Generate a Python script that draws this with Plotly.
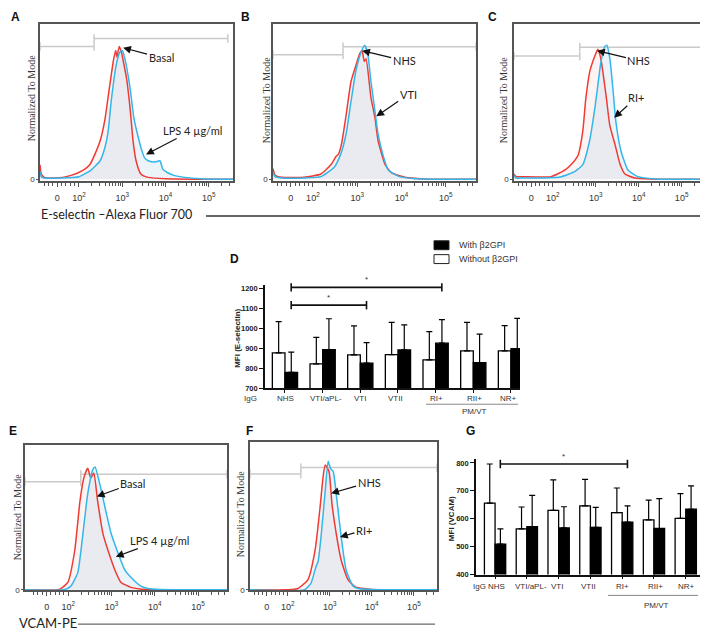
import plotly.graph_objects as go

W, H = 708, 634

# ---------------------------------------------------------------------------
# Flow histograms: channel position on the biex scale (10^n -> n, "0" -> 1.5)
# ---------------------------------------------------------------------------
A_RED_U = [1.1, 1.13, 1.2, 1.5, 1.82, 2.1, 2.25, 2.37, 2.49, 2.6, 2.7, 2.8, 2.85, 2.88,
           2.93, 2.98, 3.03, 3.1, 3.18, 3.25, 3.32, 3.43, 3.6, 4.0, 5.6]
A_RED_Y = [11, 4, 1.5, 1, 3, 7, 11, 19, 29, 45, 68, 90, 97, 92,
           100, 96, 88, 76, 54, 29, 14, 4, 1.5, 0.5, 0]
A_BLUE_U = [1.1, 1.13, 1.2, 1.6, 2.0, 2.28, 2.49, 2.6, 2.67, 2.75, 2.86, 2.95, 3.0, 3.06,
            3.18, 3.27, 3.36, 3.45, 3.52, 3.6, 3.75, 3.87, 3.94, 4.05, 4.2, 4.45, 4.8, 5.6]
A_BLUE_Y = [6, 2, 1, 1, 2, 7, 14, 24, 35, 60, 86, 96, 97, 91,
            69, 46, 33, 22, 16, 14, 13, 14, 7.5, 5, 3, 1.5, 0.5, 0]

B_RED_U = [1.1, 1.15, 1.3, 1.8, 2.18, 2.41, 2.52, 2.58, 2.65, 2.75, 2.86, 2.97, 3.06, 3.11,
           3.16, 3.2, 3.31, 3.4, 3.47, 3.63, 3.77, 4.08, 4.5, 5.7]
B_RED_Y = [8, 3, 1.5, 1.5, 4, 11, 17, 19, 27, 48, 73, 85, 94, 96,
           88, 90, 61, 46, 29, 11, 5, 1.5, 0.3, 0]
B_BLUE_U = [1.1, 1.15, 1.3, 1.8, 2.18, 2.48, 2.63, 2.75, 2.86, 2.97, 3.09, 3.17, 3.24, 3.31,
            3.4, 3.47, 3.6, 3.7, 3.95, 4.3, 5.7]
B_BLUE_Y = [5, 2, 1, 1, 2, 9, 19, 34, 58, 81, 95, 100, 93, 73,
            51, 34, 16, 7, 2, 0.5, 0]

C_RED_U = [1.1, 1.15, 1.3, 1.96, 2.29, 2.43, 2.59, 2.7, 2.77, 2.86, 2.98, 3.05, 3.12, 3.24,
           3.33, 3.45, 3.57, 3.68, 3.91, 4.3, 5.6]
C_RED_Y = [4, 2, 2, 2, 7, 11, 18, 36, 60, 80, 92, 97, 90, 63,
           40, 26, 11, 4, 1, 0.3, 0]
C_BLUE_U = [1.1, 1.15, 1.3, 1.8, 2.2, 2.52, 2.7, 2.86, 2.98, 3.05, 3.12, 3.21, 3.26, 3.33,
            3.4, 3.47, 3.59, 3.75, 3.98, 4.4, 5.6]
C_BLUE_Y = [3, 1, 1, 1, 2, 6, 11, 29, 53, 70, 87, 99, 100, 90,
            68, 43, 21, 7, 2, 0.3, 0]

E_RED_U = [1.0, 1.76, 1.83, 1.99, 2.15, 2.27, 2.36, 2.45, 2.52, 2.59, 2.68, 2.8, 2.92, 3.08,
           3.22, 3.45, 3.7, 5.7]
E_RED_Y = [0, 0, 1, 6, 32, 72, 91, 99, 91, 95, 72, 46, 32, 16,
           6, 2, 0.5, 0]
E_BLUE_U = [1.0, 1.9, 2.06, 2.22, 2.34, 2.45, 2.57, 2.62, 2.73, 2.85, 2.99, 3.15, 3.31, 3.54,
            3.68, 3.84, 4.1, 5.7]
E_BLUE_Y = [0, 0, 3, 14, 46, 78, 98, 100, 86, 67, 46, 30, 16, 7,
            3, 1, 0.3, 0]

F_RED_U = [1.1, 2.0, 2.24, 2.48, 2.65, 2.77, 2.84, 2.89, 2.98, 3.05, 3.15, 3.27, 3.43, 3.62,
           4.0, 5.6]
F_RED_Y = [0, 0, 1, 8, 31, 65, 88, 97, 92, 67, 44, 23, 8, 2,
           0.3, 0]
F_BLUE_U = [1.1, 2.4, 2.55, 2.67, 2.72, 2.79, 2.89, 2.96, 3.02, 3.08, 3.15, 3.27, 3.39, 3.55,
            3.67, 4.0, 5.6]
F_BLUE_Y = [0, 0, 5, 18, 22, 41, 77, 100, 94, 92, 75, 41, 15, 3,
            1, 0.2, 0]

# gates: (left end, split, right end, left level, right level)
A_GATE = (1.1, 2.35, 5.44, 100, 106)
B_GATE = (1.1, 2.68, 5.68, 93, 99)
C_GATE = (1.1, 2.63, 5.59, 92, 98.5)
E_GATE = (1.0, 2.29, 5.67, 88, 94)
F_GATE = (1.1, 2.31, 5.55, 90, 95)

HIST_TICKS = [1.5, 2, 3, 4, 5]
HIST_TICKTEXT = ["0", "10<sup>2</sup>", "10<sup>3</sup>", "10<sup>4</sup>", "10<sup>5</sup>"]

# ---------------------------------------------------------------------------
# Bar charts: mean MFI and SD for each serum group
# ---------------------------------------------------------------------------
CATEGORIES = ["IgG", "NHS", "VTI/aPL-", "VTI", "VTII", "RI+", "RII+", "NR+"]
GROUP_POS = [1, 2, 3, 4, 5, 6, 7]          # NHS .. NR+ (IgG has no bars)

D_WITHOUT = [877, 822, 867, 869, 842, 887, 887]
D_WITHOUT_SD = [157, 133, 145, 161, 142, 143, 127]
D_WITH = [780, 894, 826, 892, 926, 829, 899]
D_WITH_SD = [101, 154, 103, 125, 118, 142, 151]

G_WITHOUT = [656, 564, 630, 646, 622, 596, 601]
G_WITHOUT_SD = [140, 78, 109, 95, 88, 71, 89]
G_WITH = [509, 572, 567, 569, 588, 565, 634]
G_WITH_SD = [55, 112, 76, 72, 58, 107, 84]

# significance brackets: (from group, to group, level)
D_SIG = [(1, 3, 1116), (1, 5, 1205)]
G_SIG = [(1, 5, 796)]

# where the category labels sit on the page (x pixel), as in the original
D_LABEL_X = [243, 277, 318, 352, 387, 428, 467, 500]
G_LABEL_X = [471, 488, 523, 549, 580, 614, 647, 678]

RED = "#ee3b33"
BLUE = "#34b6ea"
RED_FILL = "rgba(240,160,160,0.13)"
BLUE_FILL = "rgba(175,210,235,0.24)"
SANS = "Liberation Sans"
CAL = "Lato"


def px(x):
    return x / W


def py(y):
    return 1 - y / H


fig = go.Figure()


def add_hist(n, red_u, red_y, blue_u, blue_y, gate):
    xa, ya = f"x{n}", f"y{n}"
    for u, v, fc in ((red_u, red_y, RED_FILL), (blue_u, blue_y, BLUE_FILL)):
        fig.add_trace(go.Scatter(x=u, y=v, mode="lines", fill="tozeroy", fillcolor=fc,
                                 line=dict(width=0, shape="spline", smoothing=0.5),
                                 xaxis=xa, yaxis=ya, showlegend=False, hoverinfo="skip"))
    # gate markers
    l, s, r, yl, yr = gate
    for xs, lv in (([l, s], yl), ([s, r], yr)):
        fig.add_trace(go.Scatter(x=xs, y=[lv, lv], mode="lines+markers",
                                 line=dict(color="#cacaca", width=1.5),
                                 marker=dict(symbol="line-ns", size=6,
                                             line=dict(color="#cacaca", width=1.5)),
                                 xaxis=xa, yaxis=ya, showlegend=False, hoverinfo="skip"))
    for u, v, c in ((red_u, red_y, RED), (blue_u, blue_y, BLUE)):
        fig.add_trace(go.Scatter(x=u, y=v, mode="lines",
                                 line=dict(color=c, width=1.5, shape="spline", smoothing=0.5),
                                 xaxis=xa, yaxis=ya, showlegend=False, hoverinfo="skip"))


add_hist(1, A_RED_U, A_RED_Y, A_BLUE_U, A_BLUE_Y, A_GATE)
add_hist(2, B_RED_U, B_RED_Y, B_BLUE_U, B_BLUE_Y, B_GATE)
add_hist(3, C_RED_U, C_RED_Y, C_BLUE_U, C_BLUE_Y, C_GATE)
add_hist(5, E_RED_U, E_RED_Y, E_BLUE_U, E_BLUE_Y, E_GATE)
add_hist(6, F_RED_U, F_RED_Y, F_BLUE_U, F_BLUE_Y, F_GATE)


def add_bars(n, without, without_sd, with_, with_sd, sig):
    xa, ya = f"x{n}", f"y{n}"
    fig.add_trace(go.Bar(x=GROUP_POS, y=without, name="Without β2GPI",
                         marker=dict(color="white", line=dict(color="black", width=1.3)),
                         error_y=dict(type="data", array=without_sd, symmetric=False,
                                      arrayminus=[0] * len(without), color="black",
                                      thickness=1.2, width=3),
                         xaxis=xa, yaxis=ya, showlegend=False, hoverinfo="skip"))
    fig.add_trace(go.Bar(x=GROUP_POS, y=with_, name="With β2GPI",
                         marker=dict(color="black", line=dict(color="black", width=1.3)),
                         error_y=dict(type="data", array=with_sd, symmetric=False,
                                      arrayminus=[0] * len(with_), color="black",
                                      thickness=1.2, width=3),
                         xaxis=xa, yaxis=ya, showlegend=False, hoverinfo="skip"))
    for a, b, lv in sig:
        fig.add_trace(go.Scatter(x=[a + 0.165, b + 0.165], y=[lv, lv], mode="lines+markers",
                                 line=dict(color="#111", width=1.6),
                                 marker=dict(symbol="line-ns", size=6,
                                             line=dict(color="#111", width=1.6)),
                                 cliponaxis=False, xaxis=xa, yaxis=ya,
                                 showlegend=False, hoverinfo="skip"))
        fig.add_annotation(x=(a + b) / 2 + 0.165, y=lv, xref=xa, yref=ya, text="*",
                           showarrow=False, yshift=8, font=dict(size=8, family=SANS, color="#333"))


add_bars(4, D_WITHOUT, D_WITHOUT_SD, D_WITH, D_WITH_SD, D_SIG)
add_bars(7, G_WITHOUT, G_WITHOUT_SD, G_WITH, G_WITH_SD, G_SIG)

# ---------------------------------------------------------------------------
# axes
# ---------------------------------------------------------------------------
minor_vals = [1.2, 1.3, 1.4, 1.6, 1.7, 1.8, 1.9]
log_k = [0.301, 0.477, 0.602, 0.699, 0.778, 0.845, 0.903, 0.954]
for d in (2, 3, 4, 5):
    minor_vals += [d + v for v in log_k]

hist_boxes = {
    1: ((32, 225), (15, 174), (1.1, 5.56), (-1.5, 117)),
    2: ((265, 468), (15, 174), (1.1, 5.68), (-1.5, 116)),
    3: ((506, 699), (15, 174), (1.1, 5.59), (-1.5, 116)),
    5: ((17, 219), (440, 587), (1.0, 5.67), (-0.5, 118)),
    6: ((242, 429), (437, 587), (1.1, 5.55), (-0.5, 115)),
}
layout_axes = {}
for n, ((x0, x1), (y0, y1), xr, yr) in hist_boxes.items():
    layout_axes[f"xaxis{n}"] = dict(
        domain=[px(x0), px(x1)], range=list(xr), anchor=f"y{n}",
        showline=True, mirror=True, linecolor="#555", linewidth=1.5,
        ticks="outside", ticklen=4, tickwidth=1, tickcolor="#555",
        tickvals=HIST_TICKS, ticktext=HIST_TICKTEXT, ticklabelstandoff=3,
        tickfont=dict(size=9, family=SANS, color="#333"),
        minor=dict(tickvals=minor_vals, ticks="outside", ticklen=2.5, tickcolor="#555"),
        showgrid=False, zeroline=False, fixedrange=True)
    layout_axes[f"yaxis{n}"] = dict(
        domain=[py(y1), py(y0)], range=list(yr), anchor=f"x{n}",
        showline=True, mirror=True, linecolor="#555", linewidth=1.5,
        ticks="outside", ticklen=2, tickcolor="#555", tickvals=[0], ticktext=["0"],
        tickfont=dict(size=8, family=SANS, color="#333"),
        showgrid=False, zeroline=False, fixedrange=True)

bar_boxes = {
    4: ((257, 512), (279, 383), (0.47, 7.24), (700, 1215), [700, 800, 900, 1000, 1100, 1200]),
    7: ((468, 700), (454, 571), (0.40, 7.70), (400, 815), [400, 500, 600, 700, 800]),
}
for n, ((x0, x1), (y0, y1), xr, yr, yt) in bar_boxes.items():
    layout_axes[f"xaxis{n}"] = dict(
        domain=[px(x0), px(x1)], range=list(xr), anchor=f"y{n}",
        showline=True, linecolor="#111", linewidth=1.6,
        ticks="outside", ticklen=3, tickcolor="#111", tickwidth=1.2,
        tickvals=GROUP_POS, showticklabels=False,
        showgrid=False, zeroline=False, fixedrange=True)
    layout_axes[f"yaxis{n}"] = dict(
        domain=[py(y1), py(y0)], range=list(yr), anchor=f"x{n}",
        showline=True, linecolor="#111", linewidth=1.6,
        ticks="outside", ticklen=4, tickcolor="#111", tickwidth=1.4, tickvals=yt,
        tickfont=dict(size=7.5, family=SANS, color="#222", weight="bold"),
        showgrid=False, zeroline=False, fixedrange=True)

fig.update_layout(**layout_axes)


# ---------------------------------------------------------------------------
# text
# ---------------------------------------------------------------------------
def paper_text(x, y, text, size, family=SANS, color="#111", angle=0, bold=False, anchor="center"):
    fig.add_annotation(x=px(x), y=py(y), xref="paper", yref="paper", text=text,
                       showarrow=False, textangle=angle, xanchor=anchor, yanchor="middle",
                       font=dict(size=size, family=family, color=color,
                                 weight="bold" if bold else "normal"))


for lbl, x, y in (("A", 7, 8), ("B", 237, 8), ("C", 484, 8), ("D", 226, 252),
                  ("E", 5, 426), ("F", 241, 426), ("G", 462, 426)):
    paper_text(x, y, lbl, 12, bold=True)

for x, y in ((23, 90), (258, 92), (495, 92), (9, 513), (232, 510)):
    paper_text(x, y, "Normalized To Mode", 10, family="Liberation Serif", color="#333", angle=-90)

paper_text(230, 333, "MFI (E-selectin)", 8, color="#222", angle=-90, bold=True)
paper_text(443, 515, "MFI (VCAM)", 8, color="#222", angle=-90, bold=True)

# arrow call-outs: (axis, tip x, tip y, text offset px, text)
callouts = [
    (1, 3.02, 99, 38, 10, "Basal"), (1, 3.55, 18.7, 46, -24, "LPS 4 µg/ml"),
    (2, 3.11, 96, 42, 10, "NHS"), (2, 3.43, 47, 32, -22, "VTI"),
    (3, 3.03, 96, 42, 10, "NHS"), (3, 3.43, 46, 22, -20, "RI+"),
    (5, 2.66, 76, 36, -13, "Basal"), (5, 3.10, 27, 44, -16, "LPS 4 µg/ml"),
    (6, 3.03, 75, 38, -11, "NHS"), (6, 3.24, 41, 24, -7, "RI+"),
]
for n, x, y, ax, ay, t in callouts:
    fig.add_annotation(x=x, y=y, xref=f"x{n}", yref=f"y{n}", text=t, ax=ax, ay=ay,
                       showarrow=True, arrowhead=2, arrowsize=1.3, arrowwidth=1.2,
                       arrowcolor="#111", font=dict(size=11, family=CAL, color="#222"))

paper_text(31, 207, "E-selectin –Alexa Fluor 700", 12.5, family=CAL, color="#222", anchor="left")
fig.add_shape(type="line", xref="paper", yref="paper", x0=px(198), x1=px(700),
              y0=py(209), y1=py(209), line=dict(color="#666", width=1.8))
paper_text(9, 620, "VCAM-PE", 13, family=CAL, color="#222", anchor="left")
fig.add_shape(type="line", xref="paper", yref="paper", x0=px(70), x1=px(427),
              y0=py(621), y1=py(621), line=dict(color="#444", width=1))

# category labels and the PM/VT grouping under the bar charts
for name, x in zip(CATEGORIES, D_LABEL_X):
    paper_text(x, 393, name, 8, color="#333")
for name, x in zip(CATEGORIES, G_LABEL_X):
    paper_text(x, 583, name, 8, color="#333")
fig.add_shape(type="line", xref="paper", yref="paper", x0=px(418), x1=px(510),
              y0=py(399), y1=py(399), line=dict(color="#888", width=1))
paper_text(466, 406, "PM/VT", 8, color="#333")
fig.add_shape(type="line", xref="paper", yref="paper", x0=px(600), x1=px(690),
              y0=py(592), y1=py(592), line=dict(color="#888", width=1))
paper_text(648, 602, "PM/VT", 8, color="#333")

# legend of panel D
for (y0, y1), fill, label in (((234, 243), "black", "With β2GPI"),
                              ((248, 257), "white", "Without β2GPI")):
    fig.add_shape(type="rect", xref="paper", yref="paper", x0=px(426), x1=px(441),
                  y0=py(y1), y1=py(y0), fillcolor=fill, line=dict(color="#222", width=1))
    paper_text(449, (y0 + y1) / 2, label, 9, color="#333", anchor="left")

fig.update_layout(
    width=W, height=H, margin=dict(l=0, r=0, t=0, b=0),
    paper_bgcolor="white", plot_bgcolor="white",
    barmode="group", bargap=0.33, bargroupgap=0,
    showlegend=False,
)

fig.write_html("out.html")
